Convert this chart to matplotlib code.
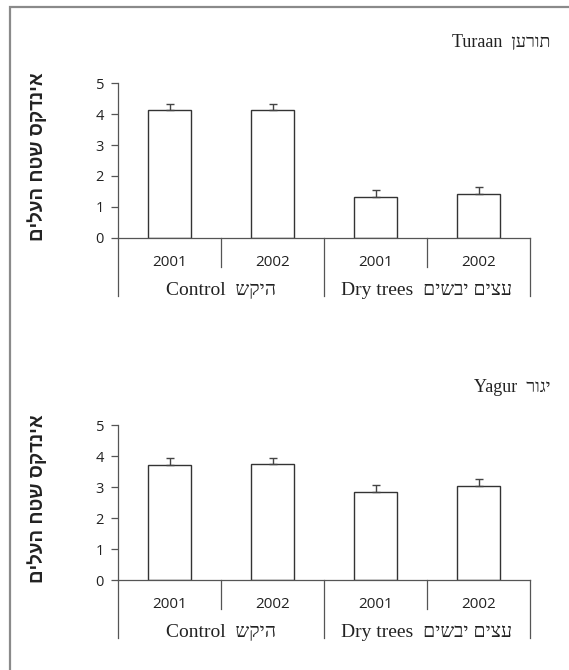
import matplotlib.pyplot as plt
from matplotlib.patches import Rectangle
import numpy as np


def rtl(s):
    # matplotlib has no bidi, so Hebrew is drawn reversed
    return s[::-1]


sites = ["Turaan  " + rtl("תורען"), "Yagur  " + rtl("יגור")]
years = ["2001", "2002", "2001", "2002"]
groups = ["Control  " + rtl("היקש"), "Dry trees  " + rtl("עצים יבשים")]
ylabel = rtl("אינדקס שטח העלים")

turaan_vals = [4.14, 4.13, 1.32, 1.43]
turaan_err = [0.18, 0.18, 0.22, 0.21]
yagur_vals = [3.72, 3.73, 2.83, 3.02]
yagur_err = [0.23, 0.22, 0.25, 0.25]

sans = ['Open Sans', 'DejaVu Sans']
serif = ['Liberation Serif', 'DejaVu Serif', 'DejaVu Sans']
heb_sans = ['Liberation Sans', 'DejaVu Sans']
axcol = '#555555'

fig = plt.figure(figsize=(5.69, 6.70), dpi=100)
fig.patches.append(Rectangle((10/569, -0.5), 1.5, 0.5 + 1 - 7/670,
                             transform=fig.transFigure, fill=False,
                             edgecolor='#8a8a8a', linewidth=1.6))

panels = [
    (0.6448, sites[0], turaan_vals, turaan_err, 0.936),
    (0.1343, sites[1], yagur_vals, yagur_err, 0.421),
]

x = np.arange(4) + 0.5
for bottom, site, vals, err, ty in panels:
    ax = fig.add_axes([118/569, bottom, 412/569, 0.2313])
    ax.bar(x, vals, width=0.41, color='white', edgecolor='#333333', linewidth=1.0)
    ax.errorbar(x, vals, yerr=[np.zeros(4), err], fmt='none',
                ecolor='#444444', elinewidth=1.0, capsize=3, capthick=1.0)
    ax.set_xlim(0, 4)
    ax.set_ylim(0, 5)
    ax.set_yticks(range(6))
    ax.set_xticks([])
    for lab in ax.get_yticklabels():
        lab.set_family(sans)
        lab.set_fontsize(10.5)
        lab.set_color('#222222')
    ax.tick_params(axis='y', direction='out', length=5, width=0.9,
                   color=axcol, pad=5)
    for s in ['top', 'right']:
        ax.spines[s].set_visible(False)
    for s in ['left', 'bottom']:
        ax.spines[s].set_color(axcol)
        ax.spines[s].set_linewidth(0.9)

    # category separators under the axis
    for sx, depth in [(0, 1.86), (1, 0.94), (2, 1.86), (3, 0.94), (4, 1.86)]:
        ax.plot([sx, sx], [0, -depth], color=axcol, linewidth=0.9, clip_on=False)

    for xi, yr in zip(x, years):
        ax.text(xi, -0.78, yr, ha='center', va='center', fontsize=11,
                family=sans, color='#222222', clip_on=False)
    for gx, g in zip([1, 3], groups):
        ax.text(gx, -1.68, g, ha='center', va='center', fontsize=14,
                family=serif, color='#222222', clip_on=False)

    ax.set_ylabel(ylabel, fontsize=13.5, family=heb_sans, fontweight='bold',
                  color='#222222')
    ax.yaxis.set_label_coords(-0.172, 0.526)

    fig.text(550/569, ty, site, ha='right', va='center', fontsize=13,
             family=serif, color='#222222')

fig.savefig('out.png', dpi=100)
